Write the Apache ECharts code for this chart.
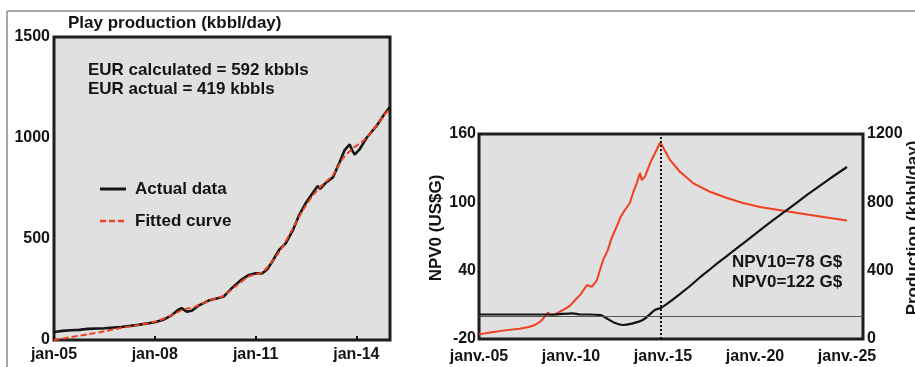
<!DOCTYPE html>
<html>
<head>
<meta charset="utf-8">
<script src="https://cdn.jsdelivr.net/npm/echarts@6/dist/echarts.min.js"></script>
<style>
html,body{margin:0;padding:0;background:#fff;}
#chart{width:915px;height:367px;}
</style>
</head>
<body>
<div id="chart"></div>
<script>
// ---- Left chart: play production (kbbl/day) ----
const leftXTickLabels = ['jan-05', 'jan-08', 'jan-11', 'jan-14'];
const actualYears = [2005.0, 2005.25, 2005.5, 2005.75, 2006.0, 2006.5, 2007.0, 2007.5, 2008.0, 2008.25, 2008.5, 2008.7, 2008.8, 2008.95, 2009.1, 2009.3, 2009.6, 2009.9, 2010.05, 2010.3, 2010.55, 2010.8, 2011.0, 2011.2, 2011.35, 2011.5, 2011.7, 2011.9, 2012.1, 2012.3, 2012.5, 2012.75, 2012.85, 2012.92, 2013.1, 2013.3, 2013.5, 2013.65, 2013.8, 2013.87, 2013.95, 2014.1, 2014.3, 2014.6, 2014.8, 2015.0];
const actualData  = [40, 45, 48, 50, 55, 58, 64, 75, 88, 100, 122, 150, 158, 140, 145, 170, 195, 208, 215, 258, 295, 322, 330, 330, 350, 390, 446, 480, 540, 620, 680, 740, 762, 748, 780, 805, 880, 940, 968, 940, 918, 945, 1000, 1060, 1110, 1155];
const fittedYears = [2005.0, 2005.5, 2006.0, 2006.5, 2007.0, 2007.5, 2008.0, 2008.5, 2008.8, 2009.2, 2009.6, 2010.0, 2010.4, 2010.8, 2011.2, 2011.5, 2011.8, 2012.1, 2012.4, 2012.7, 2013.0, 2013.3, 2013.6, 2013.9, 2014.2, 2014.5, 2014.8, 2015.0];
const fittedData  = [0, 14, 28, 43, 60, 74, 90, 122, 148, 165, 195, 215, 265, 315, 335, 390, 460, 550, 640, 715, 770, 815, 900, 950, 985, 1040, 1110, 1145];

// ---- Right chart: NPV0 and production ----
const rightXTickLabels = ['janv.-05', 'janv.-10', 'janv.-15', 'janv.-20', 'janv.-25'];
const productionYears = [2005.0, 2005.6, 2006.3, 2007.2, 2007.7, 2008.04, 2008.3, 2008.42, 2008.6, 2008.75, 2008.97, 2009.2, 2009.4, 2009.7, 2009.95, 2010.2, 2010.5, 2010.7, 2010.87, 2011.0, 2011.14, 2011.41, 2011.74, 2012.0, 2012.2, 2012.48, 2012.7, 2012.93, 2013.2, 2013.37, 2013.57, 2013.75, 2013.84, 2014.02, 2014.3, 2014.57, 2014.85, 2015.38, 2015.92, 2016.63, 2017.55, 2018.48, 2019.35, 2020.27, 2021.63, 2023.0, 2025.0];
const productionData  = [27, 38, 49, 60, 70, 82, 100, 111, 135, 154, 135, 148, 160, 178, 195, 225, 258, 290, 316, 310, 306, 345, 462, 520, 589, 657, 716, 755, 796, 855, 911, 972, 931, 950, 1030, 1089, 1152, 1048, 979, 913, 862, 825, 796, 773, 749, 726, 693];
const npvYears = [2005.0, 2006.0, 2007.0, 2008.0, 2009.0, 2010.1, 2010.5, 2011.0, 2011.6, 2012.0, 2012.4, 2012.83, 2013.3, 2013.9, 2014.57, 2014.87, 2015.38, 2016.0, 2016.5, 2017.0, 2017.5, 2018.0, 2019.0, 2020.0, 2021.0, 2022.0, 2023.0, 2024.0, 2025.0];
const npvData  = [1.5, 1.5, 1.5, 1.5, 1.5, 2.5, 1.5, 1.5, 1.0, -2.5, -6, -7.7, -6.5, -3.3, 5.5, 7.2, 12.8, 20.5, 27, 34, 40.5, 47, 59.5, 72, 84.5, 96.5, 108.5, 120, 131];
const peakYear = 2014.87;

const FONT = 'Liberation Sans';
const INK = '#141414';
const RED = '#f0401e';
const pairs = (xs, ys) => xs.map((x, i) => [x, ys[i]]);
const labelStyle = { color: INK, fontFamily: FONT, fontWeight: 'bold', fontSize: 16 };
const plain = v => String(v);

const chart = echarts.init(document.getElementById('chart'), null, { renderer: 'canvas' });
chart.setOption({
  animation: false,
  backgroundColor: '#ffffff',
  textStyle: { fontFamily: FONT },
  grid: [
    { left: 54, top: 37, width: 336, height: 303, show: true, backgroundColor: '#e0e0e0', borderColor: '#1e1e1e', borderWidth: 3 },
    { left: 479, top: 134, width: 384, height: 205, show: true, backgroundColor: '#e0e0e0', borderColor: '#1e1e1e', borderWidth: 3 }
  ],
  xAxis: [
    { gridIndex: 0, type: 'value', min: 2005, max: 2015, interval: 3,
      axisLine: { show: false }, splitLine: { show: false },
      axisTick: { show: true, inside: true, length: 4, lineStyle: { color: INK, width: 2 } },
      axisLabel: Object.assign({}, labelStyle, { margin: 7, showMaxLabel: false,
        formatter: v => { const i = Math.round((v - 2005) / 3); return Math.abs((v - 2005) / 3 - i) < 1e-6 ? (leftXTickLabels[i] || '') : ''; } }) },
    { gridIndex: 1, type: 'value', min: 2005, max: 2025.87, interval: 5,
      axisLine: { show: false }, splitLine: { show: false },
      axisTick: { show: false },
      axisLabel: Object.assign({}, labelStyle, { margin: 10, showMaxLabel: false,
        formatter: v => { const i = Math.round((v - 2005) / 5); return Math.abs((v - 2005) / 5 - i) < 1e-6 ? (rightXTickLabels[i] || '') : ''; } }) }
  ],
  yAxis: [
    { gridIndex: 0, type: 'value', min: 0, max: 1500, interval: 500,
      axisLine: { show: false }, splitLine: { show: false }, axisTick: { show: false },
      axisLabel: Object.assign({}, labelStyle, { margin: 4, formatter: plain }) },
    { gridIndex: 1, type: 'value', position: 'left', min: -20, max: 160, interval: 60,
      axisLine: { show: false }, splitLine: { show: false }, axisTick: { show: false },
      axisLabel: Object.assign({}, labelStyle, { margin: 3, formatter: plain }) },
    { gridIndex: 1, type: 'value', position: 'right', min: 0, max: 1200, interval: 400,
      axisLine: { show: false }, splitLine: { show: false }, axisTick: { show: false },
      axisLabel: Object.assign({}, labelStyle, { margin: 4, formatter: plain }) }
  ],
  series: [
    { name: 'Actual data', type: 'line', xAxisIndex: 0, yAxisIndex: 0, data: pairs(actualYears, actualData),
      showSymbol: false, symbol: 'none', lineStyle: { color: INK, width: 2.6 }, itemStyle: { color: INK }, z: 2 },
    { name: 'Fitted curve', type: 'line', xAxisIndex: 0, yAxisIndex: 0, data: pairs(fittedYears, fittedData),
      showSymbol: false, symbol: 'none', smooth: 0.2, lineStyle: { color: RED, width: 2, type: [6, 3] }, itemStyle: { color: RED }, z: 3 },
    { name: 'NPV0', type: 'line', xAxisIndex: 1, yAxisIndex: 1, data: pairs(npvYears, npvData),
      showSymbol: false, symbol: 'none', smooth: 0.3, lineStyle: { color: INK, width: 2.2 }, z: 3,
      markLine: { silent: true, symbol: 'none', label: { show: false }, animation: false,
        data: [
          { yAxis: 0, lineStyle: { color: '#555', width: 1, type: 'solid' } },
          { xAxis: peakYear, lineStyle: { color: INK, width: 2, type: [2, 2] } }
        ] } },
    { name: 'Production', type: 'line', xAxisIndex: 1, yAxisIndex: 2, data: pairs(productionYears, productionData),
      showSymbol: false, symbol: 'none', lineStyle: { color: RED, width: 2 }, z: 2 }
  ],
  graphic: [
    { type: 'line', shape: { x1: 7, y1: 11, x2: 915, y2: 11 }, style: { stroke: '#8a8a8a', lineWidth: 1.5 } },
    { type: 'line', shape: { x1: 7, y1: 11, x2: 7, y2: 367 }, style: { stroke: '#8a8a8a', lineWidth: 1.5 } },
    { type: 'text', left: 68, top: 15, style: { text: 'Play production (kbbl/day)', fill: INK, font: 'bold 17px "Liberation Sans"' } },
    { type: 'text', left: 88, top: 62, style: { text: 'EUR calculated = 592 kbbls', fill: INK, font: 'bold 17px "Liberation Sans"' } },
    { type: 'text', left: 88, top: 81, style: { text: 'EUR actual = 419 kbbls', fill: INK, font: 'bold 17px "Liberation Sans"' } },
    // legend
    { type: 'line', shape: { x1: 100, y1: 189, x2: 126, y2: 189 }, style: { stroke: INK, lineWidth: 3 } },
    { type: 'text', x: 135, y: 189, style: { text: 'Actual data', fill: INK, font: 'bold 17px "Liberation Sans"', verticalAlign: 'middle' } },
    { type: 'line', shape: { x1: 100, y1: 221, x2: 126, y2: 221 }, style: { stroke: RED, lineWidth: 2.5, lineDash: [6, 3] } },
    { type: 'text', x: 135, y: 221, style: { text: 'Fitted curve', fill: INK, font: 'bold 17px "Liberation Sans"', verticalAlign: 'middle' } },
    { type: 'text', left: 732, top: 254, style: { text: 'NPV10=78 G$', fill: INK, font: 'bold 17px "Liberation Sans"' } },
    { type: 'text', left: 732, top: 274, style: { text: 'NPV0=122 G$', fill: INK, font: 'bold 17px "Liberation Sans"' } },
    { type: 'text', x: 436, y: 228, rotation: Math.PI / 2,
      style: { text: 'NPV0 (US$G)', fill: INK, font: 'bold 17px "Liberation Sans"', align: 'center', verticalAlign: 'middle' } },
    { type: 'text', x: 913, y: 228, rotation: Math.PI / 2,
      style: { text: 'Production (kbbl/day)', fill: INK, font: 'bold 17px "Liberation Sans"', align: 'center', verticalAlign: 'middle' } }
  ]
});
</script>
</body>
</html>
